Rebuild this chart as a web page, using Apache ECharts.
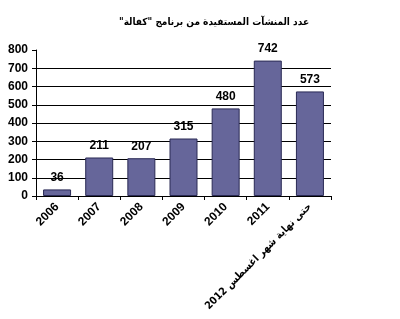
<!DOCTYPE html>
<html><head><meta charset="utf-8">
<script src="https://cdn.jsdelivr.net/npm/echarts@6/dist/echarts.min.js"></script>
<style>html,body{margin:0;padding:0;background:#fff}#c{width:400px;height:319px}</style>
</head><body><div id="c"></div>
<script>
const titleText = '\u200Fعدد المنشآت المستفيدة من برنامج "كفالة"\u200F';
const categories = ['2006','2007','2008','2009','2010','2011','حتى نهاية شهر اغسطس 2012'];
const values = [36, 211, 207, 315, 480, 742, 573];
const yTicks = [0,100,200,300,400,500,600,700,800];
const font = "'Liberation Sans', Arial, 'DejaVu Sans', sans-serif";
const arFont = "'DejaVu Sans Condensed', 'DejaVu Sans', sans-serif";
const chart = echarts.init(document.getElementById('c'));
const gridColors = yTicks.map((v,i)=> i===yTicks.length-1 ? 'rgba(0,0,0,0)' : '#000');
chart.setOption({
  animation:false,
  title:{text:titleText,left:209,top:12,textAlign:'center',textStyle:{fontFamily:arFont,fontSize:10,fontWeight:'bold',color:'#000'}},
  grid:{left:36,right:69,top:50,bottom:123,containLabel:false,outerBoundsMode:'none'},
  xAxis:{type:'category',data:categories,
    axisLine:{lineStyle:{color:'#000',width:1}},
    axisTick:{show:true,alignWithLabel:false,length:4,lineStyle:{color:'#000'}},
    axisLabel:{rotate:45,interval:0,margin:9,fontFamily:font,fontSize:12,fontWeight:'bold',color:'#000',
      formatter:(v)=> /^\d+$/.test(v) ? v : '{ar|'+v+'}',
      rich:{ar:{fontFamily:arFont,fontSize:10.5,fontWeight:'bold',color:'#000'}}}},
  yAxis:{type:'value',min:0,max:800,interval:100,
    axisLine:{show:true,lineStyle:{color:'#000'}},
    axisTick:{show:true,length:4,lineStyle:{color:'#000'}},
    axisLabel:{margin:8,fontFamily:font,fontSize:12,fontWeight:'bold',color:'#000'},
    splitLine:{show:true,lineStyle:{color:gridColors,width:1}}},
  series:[{type:'bar',data:values,barWidth:28,
    itemStyle:{color:'#66669a',borderColor:'#2a2a55',borderWidth:1},
    label:{show:true,position:'top',distance:6,fontFamily:font,fontSize:12,fontWeight:'bold',color:'#000'}}]
});
</script></body></html>
